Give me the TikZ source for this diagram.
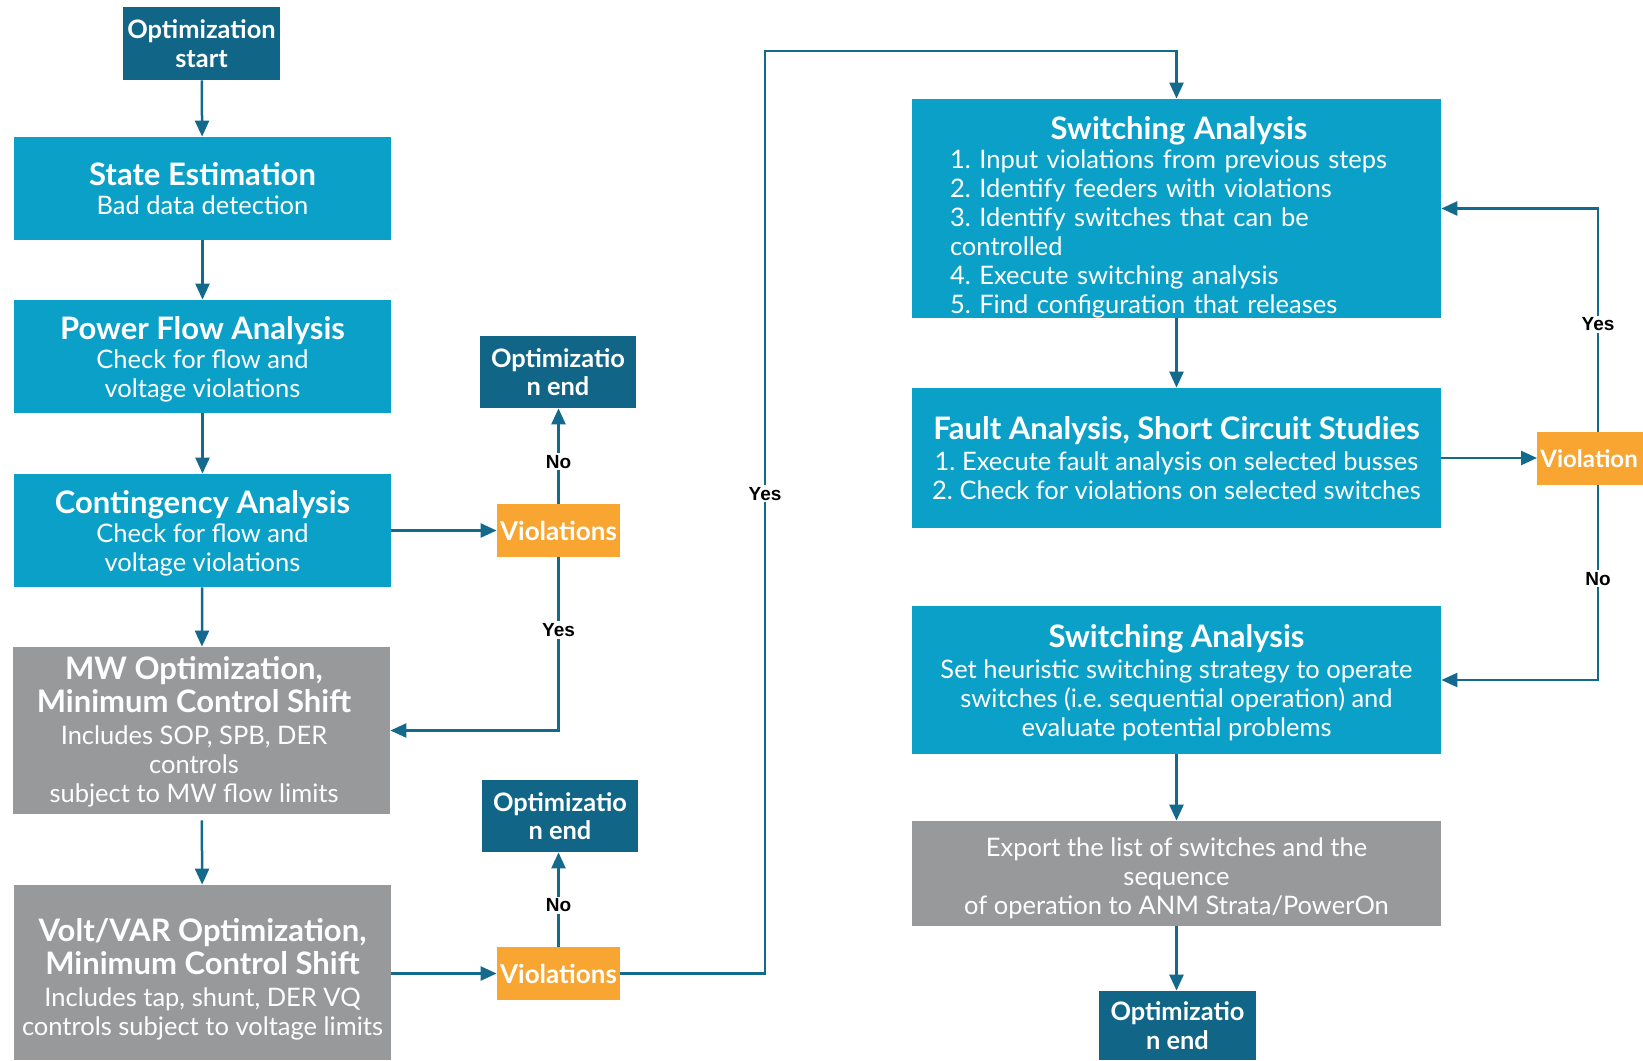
\documentclass[tikz,border=0pt]{standalone}
\usepackage{fontspec}
\setmainfont{Lato}
\newfontfamily\labelfont{Liberation Sans}
\usetikzlibrary{arrows.meta}
\frenchspacing

\definecolor{navybox}{RGB}{17,102,136}
\definecolor{cyanbox}{RGB}{11,160,200}
\definecolor{greybox}{RGB}{152,153,155}
\definecolor{orangebox}{RGB}{248,165,50}
\definecolor{linkblue}{RGB}{20,106,140}

\newcommand\boxtitle{\fontsize{15.5pt}{17pt}\selectfont\bfseries}
\newcommand\boxbody{\fontsize{12.75pt}{14.5pt}\selectfont}

\tikzset{
  wh/.style 2 args={minimum width=#1*0.5pt, minimum height=#2*0.5pt},
  basebox/.style={rectangle, inner sep=0pt, text=white, align=center, font=\boxbody},
  termbox/.style={basebox, fill=navybox, font=\fontsize{12.7pt}{14.3pt}\selectfont\bfseries},
  stepbox/.style={basebox, fill=cyanbox},
  optbox/.style={basebox, fill=greybox},
  checkbox/.style={basebox, fill=orangebox, font=\fontsize{13pt}{14pt}\selectfont\bfseries},
  arr/.style={draw=linkblue, line width=1.25pt, -{Triangle[length=8pt,width=7pt]}},
  lbl/.style={fill=white, text=black, inner xsep=0.5pt, inner ysep=1pt,
              font=\labelfont\bfseries\fontsize{9.5pt}{10pt}\selectfont},
}

\begin{document}
\begin{tikzpicture}[x=0.5pt, y=-0.5pt]
\useasboundingbox (0,0) rectangle (1643,1060);
\clip (0,0) rectangle (1643,1060);

% left column
\node[termbox, wh={157}{73}] (start) at (201.5,43.5) {Optimization\\start};
\node[stepbox, wh={377}{103}] (se) at (202.5,188.5)
  {{\boxtitle State Estimation}\\Bad data detection};
\node[stepbox, wh={377}{113}] (pf) at (202.5,356.5) {};
\node[basebox] at (202.5,359.5)
  {{\boxtitle Power Flow Analysis}\\Check for flow and\\voltage violations};
\node[stepbox, wh={377}{113}] (ca) at (202.5,530.5) {};
\node[basebox] at (202.5,533.5)
  {{\boxtitle Contingency Analysis}\\Check for flow and\\voltage violations};
\node[optbox, wh={377}{167}] (mw) at (201.5,730.5) {};
\node[basebox] at (194,732)
  {{\boxtitle MW Optimization,}\\[2pt]{\boxtitle Minimum Control Shift}\\[1.5pt]Includes SOP, SPB, DER\\controls\\subject to MW flow limits};
\node[optbox, wh={377}{175}] (vv) at (202.5,972.5) {};
\node[basebox] at (202.5,979)
  {{\boxtitle Volt/VAR Optimization,}\\[2pt]{\boxtitle Minimum Control Shift}\\[1.5pt]Includes tap, shunt, DER VQ\\controls subject to voltage limits};

% middle column
\node[checkbox, wh={123}{53}] (v1) at (558.5,530.5) {Violations};
\node[termbox, wh={156}{72}] (e1) at (558,372) {Optimizatio\\n end};
\node[termbox, wh={156}{72}] (e2) at (560,816) {Optimizatio\\n end};
\node[checkbox, wh={123}{53}] (v2) at (558.5,973.5) {Violations};

% right column
\node[stepbox, wh={529}{219}] (sa1) at (1176.5,208.5) {};
\node[basebox, text width=229pt, align=left] at (1179,217)
  {\centering{\boxtitle Switching Analysis}\par\raggedright
   1. Input violations from previous steps\\
   2. Identify feeders with violations\\
   3. Identify switches that can be\\
   controlled\\
   4. Execute switching analysis\\
   5. Find configuration that releases\par};
\node[stepbox, wh={529}{140}] (fa) at (1176.5,458)
  {{\boxtitle Fault Analysis, Short Circuit Studies}\\[1pt]1. Execute fault analysis on selected busses\\2. Check for violations on selected switches};
\node[checkbox, anchor=west, minimum height=53*0.5pt, text width=60pt, align=left, inner xsep=1.5pt,
      font=\fontsize{12pt}{14pt}\selectfont\bfseries]
  (viol) at (1537,458.5) {Violation};
\node[stepbox, wh={529}{148}] (sa2) at (1176.5,680) {};
\node[basebox] at (1176.5,683)
  {{\boxtitle Switching Analysis}\\[1pt]Set heuristic switching strategy to operate\\switches (i.e. sequential operation) and\\evaluate potential problems};
\node[optbox, wh={529}{105}] (ex) at (1176.5,873.5) {};
\node[basebox] at (1176.5,878)
  {Export the list of switches and the\\sequence\\of operation to ANM Strata/PowerOn};
\node[termbox, wh={157}{69}] (e3) at (1177.5,1025.5) {Optimizatio\\n end};

% routing points
\coordinate (loopx) at (765,0);
\coordinate (loopy) at (0,51);
\coordinate (vx) at (1598,0);

% connectors, left column
\draw[arr] (start) -- (se);
\draw[arr] (se) -- (pf);
\draw[arr] (pf) -- (ca);
\draw[arr] (ca) -- (mw);
\draw[arr, shorten <=3pt] (mw) -- (vv);
\draw[arr] (ca.east) -- (v1.west);
\draw[arr] (v1.north) -- node[lbl, pos=0.44]{No} (v1.north |- e1.south);
\draw[arr] (v1.south) |- node[lbl, pos=0.21]{Yes} (mw.east);
\draw[arr] (vv.east |- v2.west) -- (v2.west);
\draw[arr] (v2.north) -- node[lbl, pos=0.44]{No} (v2.north |- e2.south);
\draw[arr] (v2.east) -- (loopx |- v2.east)
  -- node[lbl, pos=0.52]{Yes} (loopx |- loopy) -| (sa1.north);

% connectors, right column
\draw[arr] (sa1) -- (fa);
\draw[arr] (fa.east) -- (fa.east -| viol.west);
\draw[arr] (vx |- viol.north) |- node[lbl, pos=0.24]{Yes} (sa1.east);
\draw[arr] (vx |- viol.south) |- node[lbl, pos=0.24]{No} (sa2.east);
\draw[arr] (sa2) -- (ex);
\draw[arr] (ex.south) -- (ex.south |- e3.north);
\end{tikzpicture}
\end{document}
